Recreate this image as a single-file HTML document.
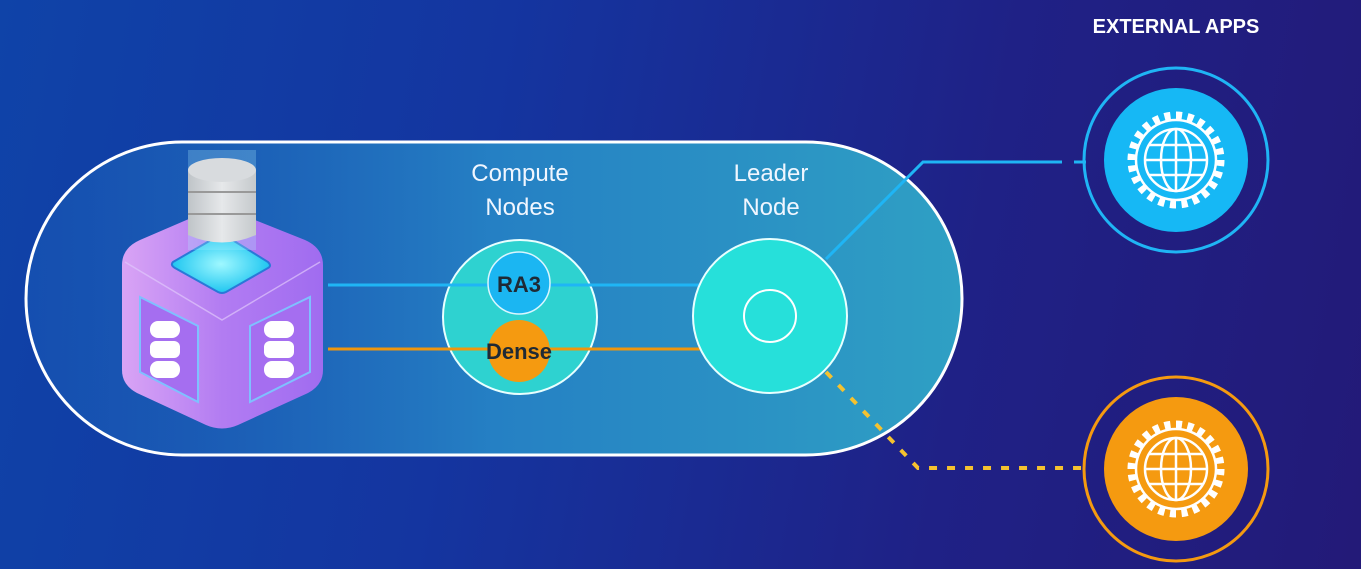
<!DOCTYPE html>
<html><head><meta charset="utf-8"><style>
html,body{margin:0;padding:0;width:1361px;height:569px;overflow:hidden}
body{background:linear-gradient(100deg,#0f43a8 0%,#1435a0 35%,#1f2186 70%,#231a78 100%);font-family:"Liberation Sans",sans-serif}
svg{display:block}
</style></head><body>
<svg width="1361" height="569" viewBox="0 0 1361 569" xmlns="http://www.w3.org/2000/svg">
<defs>
<linearGradient id="pill" x1="0" x2="1" y1="0" y2="0">
<stop offset="0" stop-color="#1a5cb8" stop-opacity="0.5"/>
<stop offset="0.5" stop-color="#2580c4"/>
<stop offset="1" stop-color="#2fa0c4"/>
</linearGradient>
<linearGradient id="cube" x1="0" x2="1">
<stop offset="0" stop-color="#d9a4f5"/>
<stop offset="0.5" stop-color="#b27cf2"/>
<stop offset="1" stop-color="#a06cf0"/>
</linearGradient>
<radialGradient id="glow"><stop offset="0" stop-color="#9ff8ff"/><stop offset="1" stop-color="#1fc6f0"/></radialGradient>
<linearGradient id="db" x1="0" x2="1"><stop offset="0" stop-color="#bfc4c8"/><stop offset="0.5" stop-color="#e6e8ea"/><stop offset="1" stop-color="#c5c9cc"/></linearGradient>
<g id="globe" fill="none" stroke="#fff" stroke-width="2.5">
<circle r="44" stroke-width="9" stroke-dasharray="6 5.5"/>
<circle r="40"/>
<circle r="31"/>
<ellipse rx="15" ry="31"/>
<line x1="-31" y1="0" x2="31" y2="0"/>
<line x1="0" y1="-31" x2="0" y2="31"/>
<line x1="-27" y1="-15" x2="27" y2="-15"/>
<line x1="-27" y1="15" x2="27" y2="15"/>
</g>
<g id="dbi" fill="#fff">
<rect x="-15" y="-29" width="30" height="17" rx="8"/>
<rect x="-15" y="-9" width="30" height="17" rx="6"/>
<rect x="-15" y="11" width="30" height="17" rx="8"/>
</g>
</defs>
<rect x="26" y="142" width="936" height="313" rx="156.5" fill="url(#pill)" stroke="#fff" stroke-width="3"/>

<!-- cube -->
<path d="M122 265 Q122 248 140 240 L205 212 Q220 206 235 212 L305 240 Q323 248 323 265 L323 370 Q323 385 308 393 L238 425 Q222 432 206 425 L137 393 Q122 385 122 370 Z" fill="url(#cube)"/>
<path d="M125 262 L222 320 L320 262" fill="none" stroke="#e0c6fb" stroke-width="1.5" opacity="0.7"/>
<path d="M173 262 L218 236 Q222 234 226 236 L268 262 Q272 266 268 268 L226 292 Q222 294 218 292 L175 268 Q170 265 173 262 Z" fill="url(#glow)" stroke="#2a78d8" stroke-width="2"/>
<rect x="188" y="150" width="68" height="100" fill="#b0f2ff" opacity="0.25"/>
<path d="M188 170 L188 235 Q222 250 256 235 L256 170 Z" fill="url(#db)"/>
<ellipse cx="222" cy="170" rx="34" ry="12" fill="#d8dbde"/>
<line x1="188" y1="192" x2="256" y2="192" stroke="#999" stroke-width="2"/>
<line x1="188" y1="214" x2="256" y2="214" stroke="#999" stroke-width="2"/>
<polygon points="140,297 198,326 198,402 140,372" fill="#a56ef0" stroke="#7fc0ff" stroke-width="2"/>
<polygon points="250,326 310,297 310,372 250,402" fill="#a56ef0" stroke="#7fc0ff" stroke-width="2"/>
<use href="#dbi" x="165" y="350"/>
<use href="#dbi" x="279" y="350"/>

<!-- lines -->
<line x1="328" y1="285" x2="700" y2="285" stroke="#1fb5f5" stroke-width="3"/>
<path d="M826 259 L923 162 L1062 162" fill="none" stroke="#1fb5f5" stroke-width="3"/>
<line x1="1074" y1="162" x2="1086" y2="162" stroke="#1fb5f5" stroke-width="3"/>
<path d="M826 372 L918 468 L1086 468" fill="none" stroke="#f5c22f" stroke-width="4" stroke-dasharray="8 10"/>

<!-- compute -->
<circle cx="520" cy="317" r="77" fill="#2ed2d0" stroke="#e8ffff" stroke-width="2"/>
<line x1="328" y1="285" x2="600" y2="285" stroke="#1fb5f5" stroke-width="3"/>
<circle cx="519" cy="283" r="31" fill="#1bb6f2" stroke="#d9f6ff" stroke-width="1.5"/>
<circle cx="519" cy="351" r="31" fill="#f59a10"/>
<line x1="328" y1="349" x2="700" y2="349" stroke="#f0960d" stroke-width="3"/>
<text x="519" y="292" text-anchor="middle" font-size="22" font-weight="bold" fill="#1f2a35">RA3</text>
<text x="519" y="359" text-anchor="middle" font-size="22" font-weight="bold" fill="#1f2a35">Dense</text>

<!-- leader -->
<circle cx="770" cy="316" r="77" fill="#26e0da" stroke="#e8ffff" stroke-width="2"/>
<circle cx="770" cy="316" r="26" fill="none" stroke="#fff" stroke-width="2"/>

<g font-size="24" fill="#f0f6ff" text-anchor="middle">
<text x="520" y="181">Compute</text><text x="520" y="215">Nodes</text>
<text x="771" y="181">Leader</text><text x="771" y="215">Node</text>
</g>
<text x="1176" y="33" text-anchor="middle" font-size="20" font-weight="bold" fill="#fff">EXTERNAL APPS</text>

<!-- apps -->
<circle cx="1176" cy="160" r="92" fill="none" stroke="#1fb5f5" stroke-width="3"/>
<circle cx="1176" cy="160" r="72" fill="#16b8f5"/>
<use href="#globe" x="1176" y="160"/>
<circle cx="1176" cy="469" r="92" fill="none" stroke="#f59a10" stroke-width="3"/>
<circle cx="1176" cy="469" r="72" fill="#f59a10"/>
<use href="#globe" x="1176" y="469"/>
</svg>
</body></html>
